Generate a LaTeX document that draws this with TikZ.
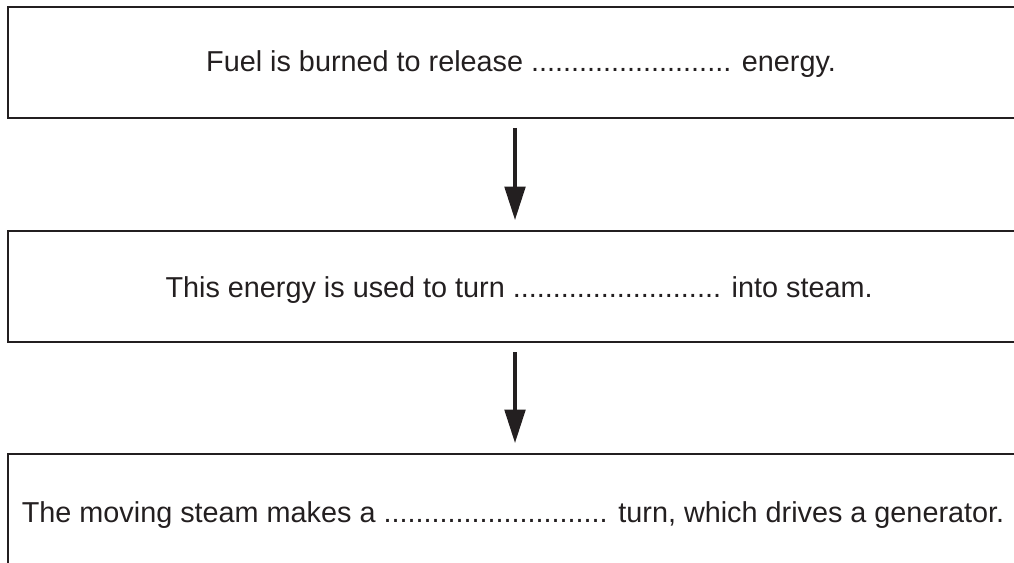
\documentclass[tikz,border=0pt]{standalone}
\usepackage{fontspec}
\setmainfont{Liberation Sans}
\usetikzlibrary{arrows.meta}
\definecolor{ink}{HTML}{231F20}
\begin{document}
\begin{tikzpicture}[x=0.75pt,y=-0.75pt,
  boxline/.style={draw=ink,line width=1.7pt},
  flow/.style={draw=ink,line width=2.3pt,-{Triangle[length=25pt,width=15.5pt]}},
  txt/.style={anchor=base,inner sep=0pt,text=ink,font=\fontsize{21.6pt}{25pt}\selectfont}]
\useasboundingbox (0,0) rectangle (1014,563);
\node[txt] (t1) at (521,72) {Fuel is burned to release ......................... energy.};
\node[txt] (t2) at (519,297) {This energy is used to turn .......................... into steam.};
\node[txt] (t3) at (513,522) {The moving steam makes a ............................ turn, which drives a generator.};
\coordinate (b1tr) at (1020,7);
\coordinate (b1tl) at (8,7);
\coordinate (b1bl) at (8,118);
\coordinate (b1br) at (1020,118);
\coordinate (b2tr) at (1020,231);
\coordinate (b2tl) at (8,231);
\coordinate (b2bl) at (8,342);
\coordinate (b2br) at (1020,342);
\coordinate (b3tr) at (1020,454);
\coordinate (b3tl) at (8,454);
\coordinate (b3bl) at (8,570);
\draw[boxline] (b1tr) -- (b1tl) -- (b1bl) -- (b1br);
\draw[boxline] (b2tr) -- (b2tl) -- (b2bl) -- (b2br);
\draw[boxline] (b3tr) -- (b3tl) -- (b3bl);
\coordinate (a1s) at (515,128);
\coordinate (a1e) at (515,220);
\coordinate (a2s) at (515,352);
\coordinate (a2e) at (515,443);
\draw[flow] (a1s) -- (a1e);
\draw[flow] (a2s) -- (a2e);
\end{tikzpicture}
\end{document}
